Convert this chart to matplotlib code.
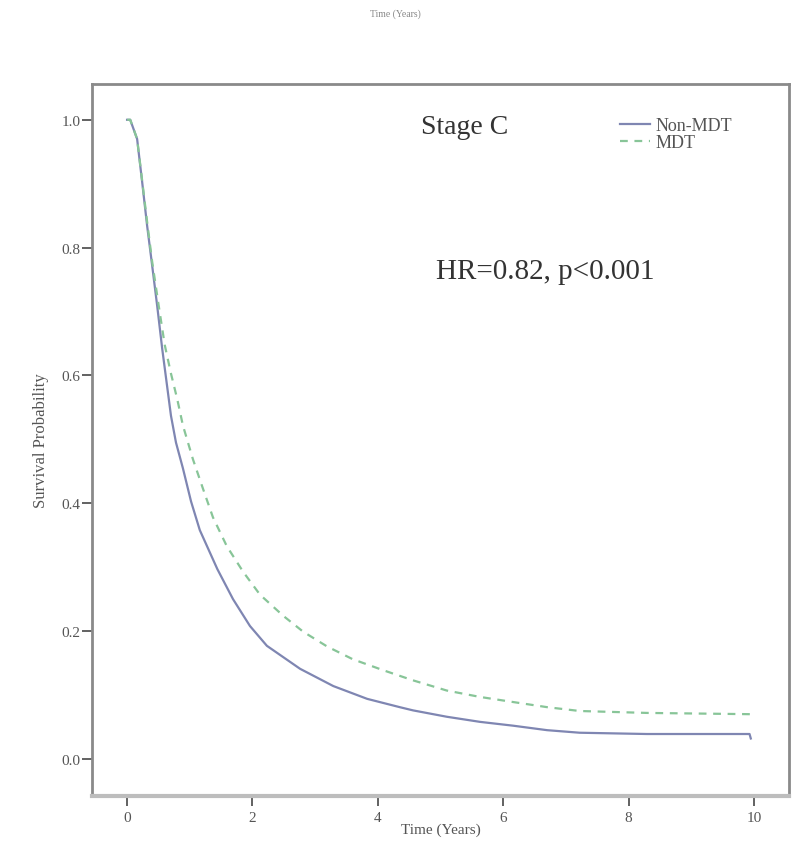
import matplotlib
matplotlib.use("Agg")
import matplotlib.pyplot as plt
from matplotlib.lines import Line2D

plt.rcParams['font.family'] = ['Liberation Serif', 'DejaVu Serif']

# Data
nonmdt_t = [0, 0.05, 0.16, 0.24, 0.32, 0.40, 0.48, 0.56, 0.64, 0.70, 0.78, 0.89, 1.02, 1.16,
            1.44, 1.69, 1.96, 2.23, 2.76, 3.29, 3.83, 4.35, 4.56, 5.10, 5.63, 6.16, 6.70,
            7.22, 8.29, 9.93, 9.95]
nonmdt_s = [1.0, 1.0, 0.970, 0.903, 0.834, 0.772, 0.709, 0.642, 0.582, 0.537, 0.495, 0.455,
            0.403, 0.358, 0.297, 0.250, 0.208, 0.177, 0.141, 0.114, 0.094, 0.081, 0.076,
            0.066, 0.058, 0.052, 0.045, 0.041, 0.039, 0.039, 0.032]
mdt_t = [0, 0.05, 0.16, 0.24, 0.32, 0.40, 0.50, 0.60, 0.70, 0.80, 0.89, 1.05, 1.21, 1.37,
         1.59, 1.85, 2.12, 2.49, 2.81, 3.19, 3.60, 4.08, 4.56, 5.10, 5.63, 6.16, 6.70,
         7.22, 8.29, 9.95]
mdt_s = [1.0, 1.0, 0.970, 0.905, 0.840, 0.778, 0.712, 0.648, 0.603, 0.563, 0.522, 0.469,
         0.423, 0.378, 0.333, 0.293, 0.257, 0.224, 0.199, 0.176, 0.156, 0.139, 0.123,
         0.107, 0.097, 0.089, 0.081, 0.075, 0.072, 0.070]
x_ticks = [0, 2, 4, 6, 8, 10]
y_ticks = [0.0, 0.2, 0.4, 0.6, 0.8, 1.0]
y_ticklabels = ["0.0", "0.2", "0.4", "0.6", "0.8", "1.0"]

fig = plt.figure(figsize=(7.95, 8.62), dpi=100)
ax = fig.add_axes([0.1157, 0.0754, 0.8768, 0.826])

c_non = '#7f86b2'
c_mdt = '#88c598'
ax.plot(nonmdt_t, nonmdt_s, color=c_non, lw=1.6, solid_joinstyle='round')
ax.plot(mdt_t, mdt_s, color=c_mdt, lw=1.6, ls=(0, (3.5, 3)))

ax.set_xlim(-0.56, 10.56)
ax.set_ylim(-0.058, 1.056)
ax.set_xticks(x_ticks)
ax.set_xticklabels([str(v) for v in x_ticks])
ax.set_yticks(y_ticks)
ax.set_yticklabels(y_ticklabels)

tc = '#555555'
ax.tick_params(axis='both', direction='out', length=7, width=1.3, colors='#555555',
               labelsize=11, labelcolor=tc)
ax.tick_params(axis='y', pad=1)
ax.tick_params(axis='x', pad=4)

for side in ['top', 'right', 'left']:
    ax.spines[side].set_color('#8a8a8a')
    ax.spines[side].set_linewidth(2)
ax.spines['bottom'].set_color('#bdbdbd')
ax.spines['bottom'].set_linewidth(3)

ax.set_xlabel('Time (Years)', fontsize=11, color=tc, labelpad=-1)
ax.set_ylabel('Survival Probability', fontsize=12, color=tc, labelpad=9)

ax.text(0.535, 0.94, 'Stage C', transform=ax.transAxes, fontsize=20, color='#333333',
        ha='center', va='center')
ax.text(0.65, 0.737, 'HR=0.82, p<0.001', transform=ax.transAxes, fontsize=21,
        color='#333333', ha='center', va='center')

handles = [Line2D([0], [0], color=c_non, lw=1.6),
           Line2D([0], [0], color=c_mdt, lw=1.6, ls=(0, (3.5, 3)))]
leg = ax.legend(handles, ['Non-MDT', 'MDT'], loc='upper left',
                bbox_to_anchor=(0.757, 0.953), frameon=False, fontsize=13,
                handlelength=1.7, handletextpad=0.3, labelspacing=0.0, borderpad=0,
                borderaxespad=0)
for t in leg.get_texts():
    t.set_color(tc)

fig.text(0.497, 1 - 14 / 862, 'Time (Years)', fontsize=7, color='#888888',
         ha='center', va='center')

fig.savefig('out.png', dpi=100)
